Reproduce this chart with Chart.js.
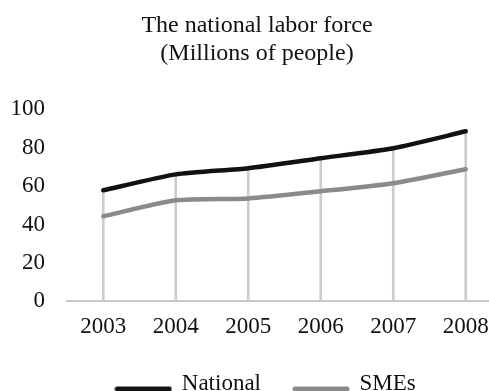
<!DOCTYPE html>
<html>
<head>
<meta charset="utf-8">
<script src="https://cdn.jsdelivr.net/npm/chart.js@4.4.0/dist/chart.umd.min.js"></script>
<style>
  html, body { margin: 0; padding: 0; background: #fff; overflow: hidden; width: 489px; height: 391px; }
  #wrap { position: absolute; left: 0; top: 0; width: 514px; height: 405px; }
</style>
</head>
<body>
<div id="wrap"><canvas id="c" width="514" height="405"></canvas></div>
<script>
const years = ['2003', '2004', '2005', '2006', '2007', '2008'];
const national = [57.8, 66.1, 69.3, 74.5, 79.7, 88.5];
const smes = [44.3, 52.6, 53.6, 57.3, 61.5, 68.8];
const yTicks = [0, 20, 40, 60, 80, 100];
const titleLines = ['The national labor force', '(Millions of people)'];

const FONT = "'Liberation Serif', 'Times New Roman', serif";

// legend swatch: a thick line placed slightly below the text centre
function swatch(color) {
  const c = document.createElement('canvas');
  c.width = 58; c.height = 18;
  const g = c.getContext('2d');
  g.strokeStyle = color;
  g.lineWidth = 5;
  g.lineCap = 'round';
  g.beginPath();
  g.moveTo(3, 14.5);
  g.lineTo(55, 14.5);
  g.stroke();
  return c;
}

const shiftLegend = {
  id: 'shiftLegend',
  afterLayout(chart) {
    if (chart.legend) { chart.legend.left += 9; chart.legend.right += 9; }
  }
};

new Chart(document.getElementById('c'), {
  type: 'line',
  data: {
    labels: years,
    datasets: [
      {
        label: 'National',
        data: national,
        borderColor: '#111111',
        backgroundColor: '#111111',
        borderWidth: 4.5,
        pointRadius: 0,
        pointStyle: swatch('#111111'),
        tension: 0.2,
        borderCapStyle: 'round',
        order: 1
      },
      {
        label: 'SMEs',
        data: smes,
        borderColor: '#8a8a8a',
        backgroundColor: '#8a8a8a',
        borderWidth: 4.5,
        pointRadius: 0,
        pointStyle: swatch('#8a8a8a'),
        tension: 0.2,
        borderCapStyle: 'round',
        order: 2
      },
      {
        type: 'bar',
        label: 'drop',
        data: national,
        backgroundColor: '#cccccc',
        barThickness: 2,
        order: 3
      }
    ]
  },
  plugins: [shiftLegend],
  options: {
    responsive: false,
    animation: false,
    layout: { padding: { left: 12, right: 12, top: 0, bottom: 0 } },
    plugins: {
      title: {
        display: true,
        text: titleLines,
        color: '#111',
        font: { family: FONT, size: 24, weight: 'normal', lineHeight: 1.15 },
        padding: { top: 12, bottom: 42 }
      },
      legend: {
        position: 'bottom',
        labels: {
          filter: (item) => item.text !== 'drop',
          color: '#111',
          font: { family: FONT, size: 23 },
          usePointStyle: true,
          pointStyleWidth: 54,
          boxHeight: 18,
          padding: 33
        }
      },
      tooltip: { enabled: false }
    },
    scales: {
      x: {
        offset: true,
        afterFit: (axis) => { axis.height = axis.height - 14; },
        grid: { display: false, drawTicks: false },
        border: { display: true, color: '#c8c8c8', width: 2 },
        ticks: { color: '#111', font: { family: FONT, size: 23 }, padding: 12 }
      },
      y: {
        min: 0,
        max: 100,
        afterFit: (axis) => { axis.width = 55; },
        afterBuildTicks: (axis) => { axis.ticks = yTicks.map(v => ({ value: v })); },
        grid: { display: false, drawTicks: false },
        border: { display: false },
        ticks: { color: '#111', font: { family: FONT, size: 23 }, padding: 22 }
      }
    }
  }
});
</script>
</body>
</html>
